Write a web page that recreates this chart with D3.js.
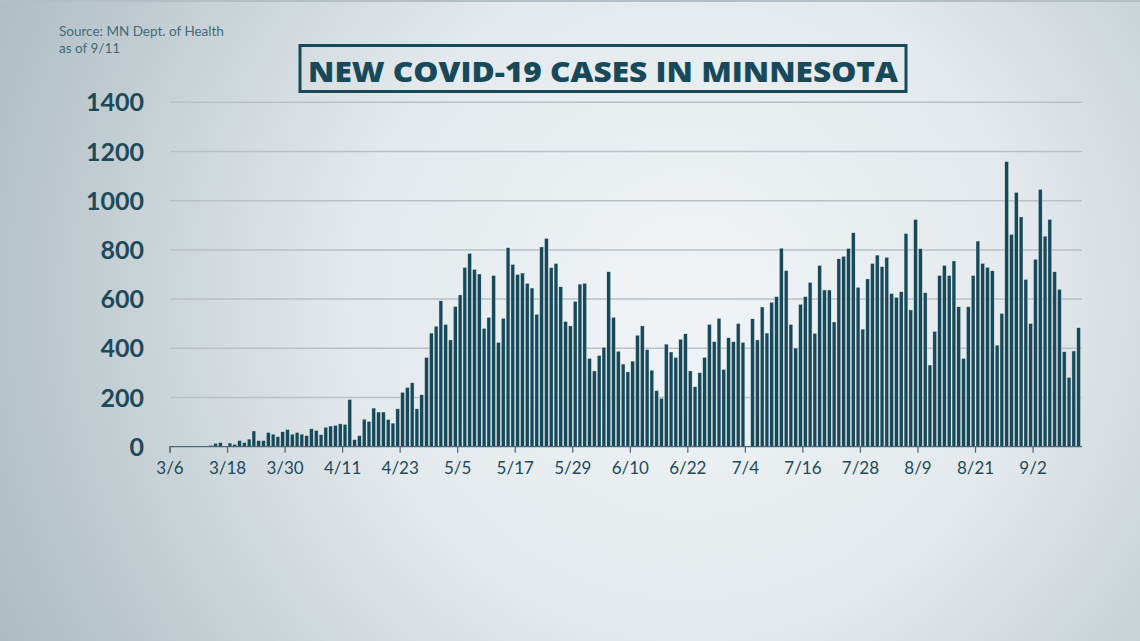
<!DOCTYPE html>
<html>
<head>
<meta charset="utf-8">
<script src="https://cdn.jsdelivr.net/npm/d3@7"></script>
<style>
  html, body { margin: 0; padding: 0; }
  body { width: 1140px; height: 641px; overflow: hidden; }
  svg { display: block; }
</style>
</head>
<body>
<svg id="chart" width="1140" height="641"></svg>
<script>
// ---- Data ----
const startDate = "2020-03-06";
const endDate = "2020-09-11";
const newCases = [
  1, 1, 1, 2, 2, 3, 2, 3, 6, 14, 17, 2, 15, 10, 25, 17, 31, 64, 25, 25,
  58, 51, 41, 61, 70, 51, 58, 51, 45, 73, 66, 49, 79, 84, 87, 93, 91, 192, 29, 45,
  112, 103, 157, 141, 141, 111, 96, 154, 221, 241, 260, 154, 211, 363, 462, 490, 593, 497, 434, 570,
  617, 729, 786, 721, 702, 481, 526, 696, 424, 522, 809, 741, 700, 706, 664, 645, 538, 812, 847, 728,
  745, 650, 509, 491, 591, 661, 664, 359, 308, 371, 404, 711, 526, 388, 336, 304, 348, 453, 491, 395,
  311, 228, 197, 417, 385, 363, 437, 459, 308, 244, 301, 363, 497, 427, 522, 314, 443, 427, 501, 424,
  0, 520, 434, 568, 462, 587, 610, 807, 716, 497, 401, 579, 610, 668, 461, 737, 637, 637, 507, 764,
  774, 806, 870, 648, 478, 682, 745, 779, 732, 770, 623, 607, 630, 867, 556, 924, 805, 626, 332, 469,
  696, 737, 696, 755, 569, 359, 569, 696, 836, 745, 729, 715, 413, 542, 1159, 863, 1034, 934, 680, 501,
  762, 1046, 856, 924, 711, 640, 386, 282, 389, 484
];
const tickLabels = ["3/6","3/18","3/30","4/11","4/23","5/5","5/17","5/29","6/10","6/22","7/4","7/16","7/28","8/9","8/21","9/2"];
const yTicks = [0, 200, 400, 600, 800, 1000, 1200, 1400];
const titleText = "NEW COVID-19 CASES IN MINNESOTA";
const sourceLines = ["Source: MN Dept. of Health", "as of 9/11"];

// ---- Build ----
const parse = d3.timeParse("%Y-%m-%d");
const fmt = d3.timeFormat("%-m/%-d");
const dates = d3.timeDay.range(parse(startDate), d3.timeDay.offset(parse(endDate), 1)).map(fmt);
const data = dates.map((d, i) => ({ date: d, value: newCases[i] }));

const svg = d3.select("#chart");
const W = 1140, H = 641;

// background
const defs = svg.append("defs");
const rg = defs.append("radialGradient")
  .attr("id", "bg").attr("gradientUnits", "userSpaceOnUse")
  .attr("cx", 690).attr("cy", 300).attr("r", 760);
rg.append("stop").attr("offset", "0%").attr("stop-color", "#f1f4f6");
rg.append("stop").attr("offset", "45%").attr("stop-color", "#e3e9ec");
rg.append("stop").attr("offset", "100%").attr("stop-color", "#aebcc3");
svg.append("rect").attr("width", W).attr("height", H).attr("fill", "url(#bg)");
svg.append("rect").attr("width", W).attr("height", 2).attr("fill", "#b3bfc5");

const textColor = "#1c4a5a";
const barColor = "#17495a";

const x = d3.scaleBand().domain(dates).range([170, 1081]).paddingInner(0.2).paddingOuter(0.1);
const y = d3.scaleLinear().domain([0, 1400]).range([446.7, 102.3]);

// gridlines
svg.append("g").selectAll("line")
  .data(yTicks.filter(t => t > 0))
  .join("line")
  .attr("x1", 170).attr("x2", 1082)
  .attr("y1", d => y(d)).attr("y2", d => y(d))
  .attr("stroke", "#b9c1c6").attr("stroke-width", 1.5);

// y labels
svg.append("g").selectAll("text")
  .data(yTicks)
  .join("text")
  .attr("x", 144).attr("y", d => y(d))
  .attr("dy", "0.36em")
  .attr("text-anchor", "end")
  .attr("font-family", "Lato, 'Open Sans', sans-serif")
  .attr("font-weight", 700)
  .attr("font-size", 25)
  .attr("fill", textColor)
  .text(d => d);

// bars
svg.append("g").selectAll("rect")
  .data(data)
  .join("rect")
  .attr("x", d => x(d.date))
  .attr("width", x.bandwidth())
  .attr("y", d => y(d.value))
  .attr("height", d => y(0) - y(d.value))
  .attr("fill", barColor)
  .attr("stroke", "#e9eff1")
  .attr("stroke-width", 0.4);

// x axis
const xAxis = d3.axisBottom(x)
  .tickValues(tickLabels)
  .tickSize(6)
  .tickSizeOuter(0);
const gx = svg.append("g").attr("transform", `translate(0,${y(0)})`).call(xAxis);
gx.select(".domain").attr("stroke", "#4d6671").attr("stroke-width", 1.2)
  .attr("d", "M170,6V0H1082");
gx.selectAll(".tick").attr("transform", d => `translate(${x(d) - x.step() * x.paddingOuter() * 0 - (x.step() - x.bandwidth()) / 2},0)`);
gx.selectAll(".tick line").attr("stroke", "#4d6671").attr("stroke-width", 1.2);
gx.selectAll(".tick text")
  .attr("y", 21)
  .attr("dy", "0.36em")
  .attr("font-family", "Lato, 'Open Sans', sans-serif")
  .attr("font-size", 17)
  .attr("fill", textColor);

// source text
svg.append("g").selectAll("text")
  .data(sourceLines)
  .join("text")
  .attr("x", 59).attr("y", (d, i) => 36 + i * 17)
  .attr("font-family", "Lato, 'Open Sans', sans-serif")
  .attr("font-size", 13.5)
  .attr("fill", "#3f6c79")
  .text(d => d);

// title box
svg.append("rect")
  .attr("x", 300).attr("y", 45.5).attr("width", 606).attr("height", 46)
  .attr("fill", "none").attr("stroke", barColor).attr("stroke-width", 3);
svg.append("text")
  .attr("x", 603).attr("y", 82)
  .attr("text-anchor", "middle")
  .attr("font-family", "'Open Sans', Lato, sans-serif")
  .attr("font-weight", 800)
  .attr("font-size", 29)
  .attr("textLength", 590)
  .attr("lengthAdjust", "spacingAndGlyphs")
  .attr("fill", barColor)
  .text(titleText);
</script>
</body>
</html>
